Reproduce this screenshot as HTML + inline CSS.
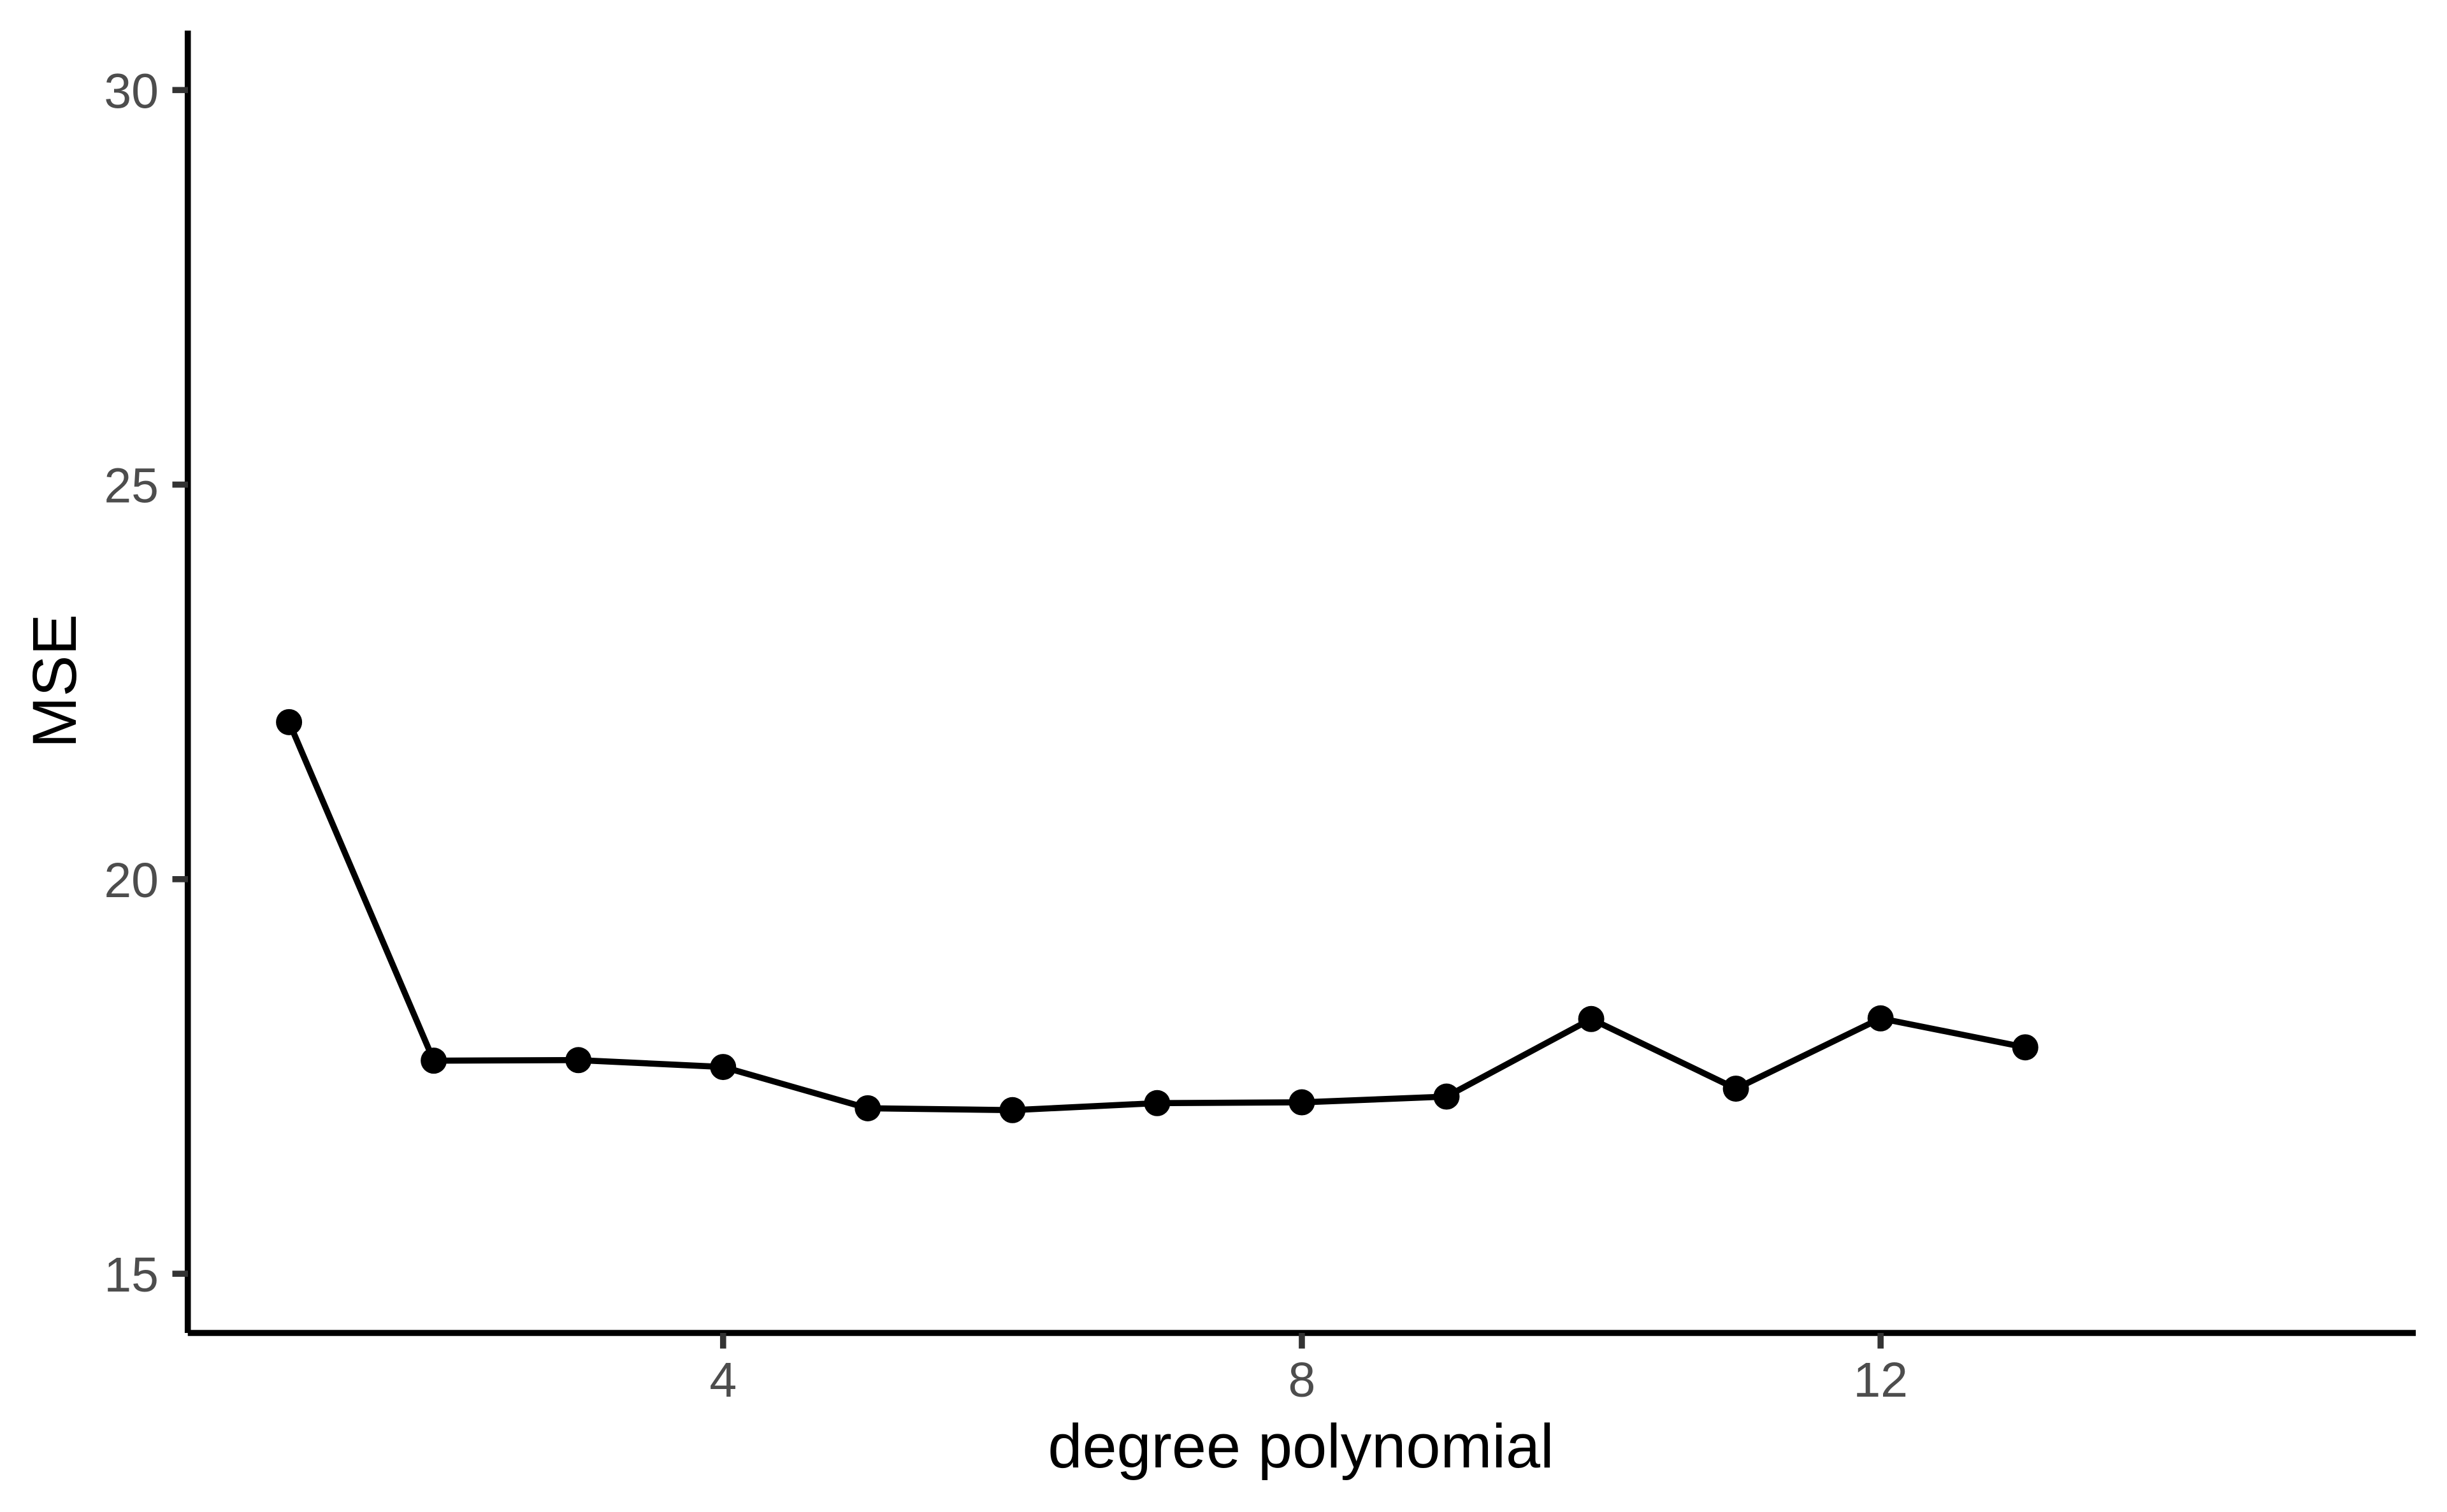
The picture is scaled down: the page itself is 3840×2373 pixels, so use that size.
<!DOCTYPE html>
<html lang="en">
<head>
<meta charset="utf-8">
<title>MSE by degree polynomial</title>
<style>
  html, body { margin: 0; padding: 0; background: #fff; }
  #chart { display: block; width: 3840px; height: 2373px; }
  text { font-family: "Liberation Sans", Arial, sans-serif; }
</style>
</head>
<body>
<svg id="chart" xmlns="http://www.w3.org/2000/svg" width="3840" height="2373" viewBox="0 0 3840 2373">
  <rect x="0" y="0" width="3840" height="2373" fill="#ffffff"></rect>
  <g id="axis-lines">
    <line x1="294.7" y1="48" x2="294.7" y2="2092" stroke="#000" stroke-width="9.6"></line>
    <line x1="294.7" y1="2092" x2="3791" y2="2092" stroke="#000" stroke-width="9.6"></line>
  </g>
  <g id="y-ticks"></g>
  <g id="x-ticks"></g>
  <g id="series"></g>
  <text x="2041.5" y="2303" text-anchor="middle" font-size="97.2" fill="#000">degree polynomial</text>
  <text transform="translate(119 1069) rotate(-90)" text-anchor="middle" font-size="97.2" fill="#000">MSE</text>
</svg>
<script>
const degrees = [1, 2, 3, 4, 5, 6, 7, 8, 9, 10, 11, 12, 13];
const mseValues = [21.99, 17.70, 17.707, 17.62, 17.097, 17.073, 17.162, 17.172, 17.245, 18.228, 17.345, 18.236, 17.869];
const xTickLabels = [4, 8, 12];
const yTickLabels = [15, 20, 25, 30];

function xScale(v) { return 453.6 + (v - 1) * 227.05; }
function yScale(v) { return 141.3 + (30 - v) * 123.85; }

const SVG_NS = 'http://www.w3.org/2000/svg';
function make(tag, parent) {
  const el = document.createElementNS(SVG_NS, tag);
  parent.appendChild(el);
  return el;
}

const yTickGroup = document.getElementById('y-ticks');
yTickLabels.forEach(function (v) {
  const tick = make('line', yTickGroup);
  tick.setAttribute('x1', 270.5);
  tick.setAttribute('x2', 295);
  tick.setAttribute('y1', yScale(v));
  tick.setAttribute('y2', yScale(v));
  tick.setAttribute('stroke', '#333333');
  tick.setAttribute('stroke-width', 9.6);
  
  
  const label = make('text', yTickGroup);
  label.setAttribute('x', 249);
  label.setAttribute('y', yScale(v) + 28);
  label.setAttribute('text-anchor', 'end');
  label.setAttribute('font-size', 77);
  label.setAttribute('fill', '#4d4d4d');
  
  
  label.textContent = v;
});

const xTickGroup = document.getElementById('x-ticks');
xTickLabels.forEach(function (v) {
  const tick = make('line', xTickGroup);
  tick.setAttribute('x1', xScale(v));
  tick.setAttribute('x2', xScale(v));
  tick.setAttribute('y1', 2092);
  tick.setAttribute('y2', 2116.5);
  tick.setAttribute('stroke', '#333333');
  tick.setAttribute('stroke-width', 9.6);
  
  
  const label = make('text', xTickGroup);
  label.setAttribute('x', xScale(v));
  label.setAttribute('y', 2192);
  label.setAttribute('text-anchor', 'middle');
  label.setAttribute('font-size', 77);
  label.setAttribute('fill', '#4d4d4d');
  
  
  label.textContent = v;
});

const seriesGroup = document.getElementById('series');
const mseLine = make('polyline', seriesGroup);
mseLine.setAttribute('points', degrees.map(function (d, i) {
  return xScale(d) + ',' + yScale(mseValues[i]);
}).join(' '));
mseLine.setAttribute('fill', 'none');
mseLine.setAttribute('stroke', '#000000');
mseLine.setAttribute('stroke-width', 9.6);
mseLine.setAttribute('stroke-linejoin', 'round');



degrees.forEach(function (d, i) {
  const point = make('circle', seriesGroup);
  point.setAttribute('cx', xScale(d));
  point.setAttribute('cy', yScale(mseValues[i]));
  point.setAttribute('r', 20.5);
  point.setAttribute('fill', '#000000');
  
  
});
</script>
</body>
</html>
